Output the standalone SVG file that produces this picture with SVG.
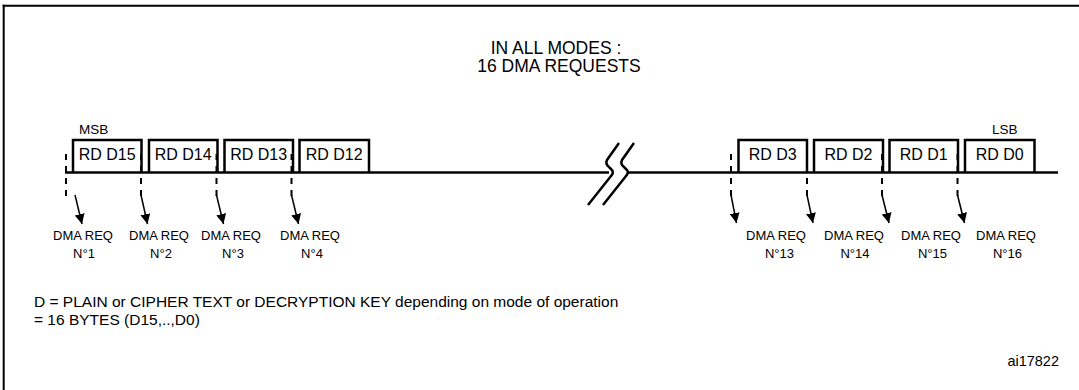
<svg xmlns="http://www.w3.org/2000/svg" width="1079" height="390" viewBox="0 0 1079 390">
<defs>
<marker id="ah" markerUnits="userSpaceOnUse" markerWidth="10" markerHeight="10" refX="10" refY="5" orient="auto" viewBox="0 0 10 10">
<path d="M0,0 L10,5 L0,10 z" fill="#000"/>
</marker>
<style>
text{font-family:"Liberation Sans",Arial,sans-serif;fill:#000}
.box{fill:none;stroke:#000;stroke-width:2.5}
.bt{font-size:16px;text-anchor:middle}
.lbl{font-size:13px;text-anchor:middle}
.dash{stroke:#000;stroke-width:2;stroke-dasharray:6 6}
.arr{stroke:#000;stroke-width:1.5;marker-end:url(#ah)}
.main{stroke:#000;stroke-width:2.5;fill:none}
</style>
</defs>
<rect width="1079" height="390" fill="#fff"/>
<g id="frame">
<line x1="3.7" y1="4.7" x2="3.7" y2="390" stroke="#000" stroke-width="2"/>
<line x1="2.7" y1="5.7" x2="1079" y2="5.7" stroke="#000" stroke-width="2"/>
</g>
<g id="header">
<text x="556" y="54" font-size="17.5px" text-anchor="middle">IN ALL  MODES :</text>
<text x="559" y="72" font-size="17.5px" text-anchor="middle">16 DMA REQUESTS</text>
</g>
<g id="bus">
<line class="main" x1="65" y1="172.5" x2="609" y2="172.5"/>
<line class="main" x1="628" y1="172.5" x2="1058" y2="172.5"/>
<path class="main" stroke-width="2" d="M619,143 L607,160 Q605,164 609,167 L612,170 Q614,173 611,176 L588,205"/>
<path class="main" stroke-width="2" d="M634,143 L622,160 Q620,164 624,167 L627,170 Q629,173 626,176 L603,205"/>
<text x="79" y="134" font-size="13.5px">MSB</text>
<text x="992" y="134" font-size="13.5px">LSB</text>
</g>
<g id="d15"><path class="box" d="M73,172 V140 H141.5 V172"/><text class="bt" x="107.2" y="160">RD D15</text></g>
<g id="d14"><path class="box" d="M149,172 V140 H217.5 V172"/><text class="bt" x="183.2" y="160">RD D14</text></g>
<g id="d13"><path class="box" d="M224.5,172 V140 H293 V172"/><text class="bt" x="258.7" y="160">RD D13</text></g>
<g id="d12"><path class="box" d="M299.5,172 V140 H369 V172"/><text class="bt" x="334.2" y="160">RD D12</text></g>
<g id="d3"><path class="box" d="M738.5,172 V140 H807 V172"/><text class="bt" x="772.7" y="160">RD D3</text></g>
<g id="d2"><path class="box" d="M814,172 V140 H883 V172"/><text class="bt" x="848.5" y="160">RD D2</text></g>
<g id="d1"><path class="box" d="M889.5,172 V140 H958 V172"/><text class="bt" x="923.7" y="160">RD D1</text></g>
<g id="d0"><path class="box" d="M965,172 V140 H1034.5 V172"/><text class="bt" x="999.7" y="160">RD D0</text></g>
<g id="connectors">
<line class="dash" x1="66" y1="154" x2="66" y2="196"/>
<line class="dash" x1="141" y1="154" x2="141" y2="196"/>
<line class="dash" x1="216.5" y1="154" x2="216.5" y2="196"/>
<line class="dash" x1="291.5" y1="154" x2="291.5" y2="196"/>
<line class="dash" x1="731" y1="154" x2="731" y2="196"/>
<line class="dash" x1="807" y1="154" x2="807" y2="196"/>
<line class="dash" x1="882" y1="154" x2="882" y2="196"/>
<line class="dash" x1="957.5" y1="154" x2="957.5" y2="196"/>
<line class="arr" x1="75" y1="195" x2="82" y2="224"/>
<line class="arr" x1="141" y1="195" x2="147.5" y2="224"/>
<line class="arr" x1="216.5" y1="195" x2="223.5" y2="224"/>
<line class="arr" x1="291.5" y1="195" x2="298.5" y2="224"/>
<line class="arr" x1="731" y1="195" x2="736.5" y2="223"/>
<line class="arr" x1="807" y1="195" x2="813" y2="223"/>
<line class="arr" x1="882" y1="195" x2="889" y2="223"/>
<line class="arr" x1="957.5" y1="195" x2="964.5" y2="223"/>
</g>
<g id="req1"><text class="lbl" x="83" y="240">DMA REQ</text><text class="lbl" x="84" y="258">N°1</text></g>
<g id="req2"><text class="lbl" x="159" y="240">DMA REQ</text><text class="lbl" x="161" y="258">N°2</text></g>
<g id="req3"><text class="lbl" x="231" y="240">DMA REQ</text><text class="lbl" x="233" y="258">N°3</text></g>
<g id="req4"><text class="lbl" x="310" y="240">DMA REQ</text><text class="lbl" x="312" y="258">N°4</text></g>
<g id="req13"><text class="lbl" x="776" y="240">DMA REQ</text><text class="lbl" x="779.5" y="258">N°13</text></g>
<g id="req14"><text class="lbl" x="854" y="240">DMA REQ</text><text class="lbl" x="855" y="258">N°14</text></g>
<g id="req15"><text class="lbl" x="931" y="240">DMA REQ</text><text class="lbl" x="932.5" y="258">N°15</text></g>
<g id="req16"><text class="lbl" x="1006" y="240">DMA REQ</text><text class="lbl" x="1007.5" y="258">N°16</text></g>
<g id="notes">
<text x="34" y="307" font-size="15.5px">D = PLAIN or CIPHER TEXT or DECRYPTION KEY depending on mode of operation</text>
<text x="34" y="325" font-size="15.5px">= 16 BYTES (D15,..,D0)</text>
<text x="1059" y="366" font-size="14.5px" text-anchor="end">ai17822</text>
</g>
</svg>
